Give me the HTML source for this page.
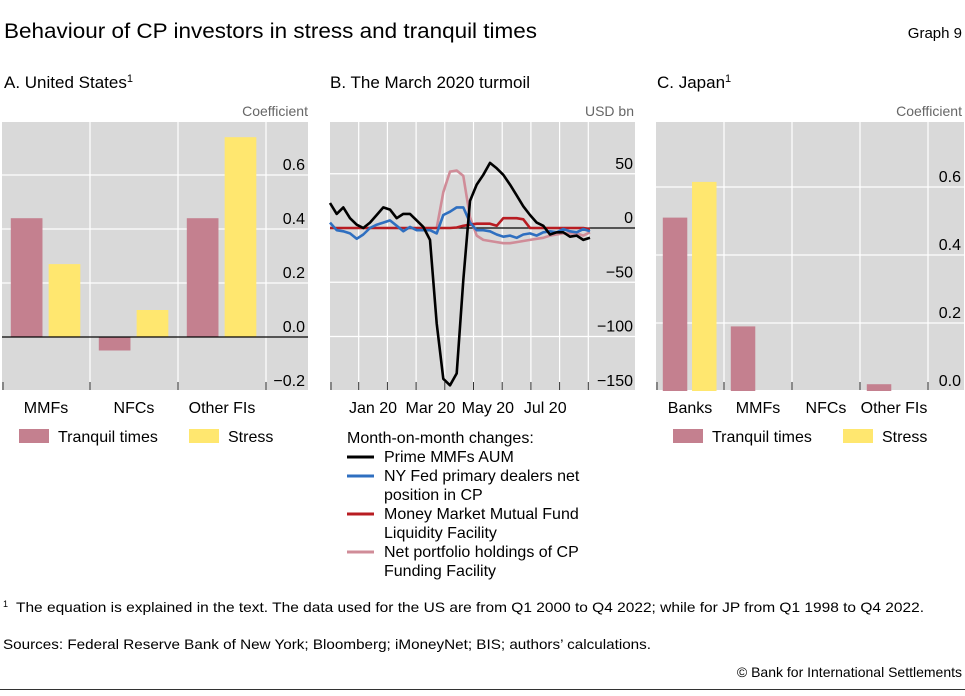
<!DOCTYPE html>
<html><head><meta charset="utf-8">
<style>
body{margin:0;background:#fff;width:965px;height:691px;overflow:hidden;font-family:"Liberation Sans",sans-serif;}
svg text{font-family:"Liberation Sans",sans-serif;}
</style></head>
<body>
<svg id="chart" width="965" height="691" viewBox="0 0 965 691" xmlns="http://www.w3.org/2000/svg">
<text x="4" y="38" font-size="21" textLength="533" lengthAdjust="spacingAndGlyphs" fill="#000">Behaviour of CP investors in stress and tranquil times</text>
<text x="962" y="38" font-size="15" text-anchor="end">Graph 9</text>
<text x="4" y="88" font-size="17">A. United States<tspan font-size="11" dy="-6">1</tspan></text>
<text x="330" y="88" font-size="17">B. The March 2020 turmoil</text>
<text x="657" y="88" font-size="17">C. Japan<tspan font-size="11" dy="-6">1</tspan></text>
<text x="308" y="116" font-size="14" fill="#666" text-anchor="end">Coefficient</text>
<text x="634" y="116" font-size="14" fill="#666" text-anchor="end">USD bn</text>
<text x="962" y="116" font-size="14" fill="#666" text-anchor="end">Coefficient</text>
<g id="pa"></g><g id="pb"></g><g id="pc"></g>
<text x="3" y="607" font-size="9">1</text>
<text x="16" y="612" font-size="14" textLength="908" lengthAdjust="spacingAndGlyphs">The equation is explained in the text. The data used for the US are from Q1 2000 to Q4 2022; while for JP from Q1 1998 to Q4 2022.</text>
<text x="3" y="649" font-size="14" textLength="648" lengthAdjust="spacingAndGlyphs">Sources: Federal Reserve Bank of New York; Bloomberg; iMoneyNet; BIS; authors’ calculations.</text>
<text x="962" y="677" font-size="14" text-anchor="end">© Bank for International Settlements</text>
<line x1="0" y1="689.5" x2="965" y2="689.5" stroke="#333" stroke-width="1"/>
</svg>
<script>
const usCats=["MMFs","NFCs","Other FIs"];
const usTranquil=[0.44,-0.05,0.44];
const usStress=[0.27,0.10,0.74];
const usTicks=[-0.2,0.0,0.2,0.4,0.6];
const jpCats=["Banks","MMFs","NFCs","Other FIs"];
const jpTranquil=[0.51,0.19,0,0.02];
const jpStress=[0.615,0,0,0];
const jpTicks=[0.0,0.2,0.4,0.6];
const bTicks=[-150,-100,-50,0,50];
const bMonths=["Jan 20","Mar 20","May 20","Jul 20"];
const primeMMF=[23,13,19,9,3,0,5,12,19,17,9,13,13,7,1,-11,-88,-139,-145,-134,-48,25,40,49,60,55,49,40,30,20,12,5,2,-6,-4,-4,-8,-7,-11,-9];
const nyFed=[5,-2,-3,-5,-10,-6,0,3,5,7,2,-3,1,-2,-2,-2,-5,12,15,19,19,5,-2,-2,-3,-6,-8,-7,-9,-6,-5,-7,-4,-3,-4,-1,-3,-4,-1,-3];
const mmlf=[0,0,0,0,0,0,0,0,0,0,0,0,0,0,0,0,0,0,0,0.5,2,3,4,4,4,2,9,9,9,8,0,0,0,0,0,0,0,0,0,-1];
const cpff=[null,null,null,null,null,null,null,null,null,null,null,null,null,null,null,null,0,33,52,53,48,10,-7,-11,-12,-13,-14,-14,-13,-12,-11,-10,-9,-7,-6,-5,-5,-5,-7,-4];
const NS="http://www.w3.org/2000/svg";
function mk(p,tag,at){const e=document.createElementNS(NS,tag);for(const k in at)e.setAttribute(k,at[k]);p.appendChild(e);return e;}
const PINK="#c4808f",YEL="#ffe76f",GREY="#d9d9d9";

function barPanel(g,x0,x1,top,bot,y,cats,catW,tr,st,ticks,zeroLine,legX){
  const r=mk(g,'rect',{x:x0,y:top,width:x1-x0,height:bot-top,fill:GREY});
  
  ticks.forEach(t=>{
    const gl=mk(g,'line',{x1:x0,x2:x1,y1:y(t),y2:y(t),stroke:'#fff','stroke-width':1.2});
    
    const tl=mk(g,'text',{x:x1-3,y:y(t)-5,'font-size':16,'text-anchor':'end'});
    tl.textContent=(t<0?'\u2212':'')+Math.abs(t).toFixed(1);
    
  });
  for(let i=1;i<=cats.length;i++){
    const vx=x0+i*catW;
    const vl=mk(g,'line',{x1:vx,x2:vx,y1:top,y2:bot,stroke:'#fff','stroke-width':1.2});
    
  }
  for(let i=0;i<=cats.length;i++){
    const tx=x0+i*catW+(i==0?1:0);
    const tk=mk(g,'line',{x1:tx,x2:tx,y1:bot-8,y2:bot,stroke:'#333','stroke-width':1});
    
  }
  const bw=catW*0.36;
  cats.forEach((c,i)=>{
    const cx=x0+i*catW;
    [[tr[i],PINK,cx+catW*0.1],[st[i],YEL,cx+catW*0.53]].forEach(([v,col,bx],k)=>{
      if(!v)return;
      const ya=y(v),yb=y(0);
      const b=mk(g,'rect',{x:bx,y:Math.min(ya,yb),width:bw,height:Math.abs(yb-ya),fill:col});
      
      
    });
    const cl=mk(g,'text',{x:cx+catW/2,y:bot+23,'font-size':16,'text-anchor':'middle'});
    cl.textContent=c;
    
  });
  if(zeroLine){
    const z=mk(g,'line',{x1:x0,x2:x1,y1:y(0),y2:y(0),stroke:'#000','stroke-width':1.2});
    
  }
  const ly=bot+51;
  const s1=mk(g,'rect',{x:legX,y:ly-12,width:30,height:14,fill:PINK});
  
  const t1=mk(g,'text',{x:legX+39,y:ly+1,'font-size':16});t1.textContent='Tranquil times';
  
  const s2=mk(g,'rect',{x:legX+170,y:ly-12,width:30,height:14,fill:YEL});
  
  const t2=mk(g,'text',{x:legX+209,y:ly+1,'font-size':16});t2.textContent='Stress';
  
}
const yA=v=>337-v*270;
barPanel(document.getElementById('pa'),2,308,122,390,yA,usCats,88,usTranquil,usStress,usTicks,true,19);
const yC=v=>391-v*340;
barPanel(document.getElementById('pc'),656,964,122,390,yC,jpCats,68,jpTranquil,jpStress,jpTicks,false,673);

(function(){
  const g=document.getElementById('pb');
  const x0=330,x1=635,top=122,bot=390;
  const y=v=>228-v*1.085;
  const xi=i=>330+i*6.667;
  const monthW=28.7;
  const r=mk(g,'rect',{x:x0,y:top,width:x1-x0,height:bot-top,fill:GREY});
  
  bTicks.forEach(t=>{
    const gl=mk(g,'line',{x1:x0,x2:x1,y1:y(t),y2:y(t),stroke:'#fff','stroke-width':1.2});
    
    const tl=mk(g,'text',{x:x1-2,y:y(t)-5,'font-size':16,'text-anchor':'end'});
    tl.textContent=(t<0?'\u2212':'')+Math.abs(t);
    
  });
  for(let m=0;m<=9;m++){
    const vx=x0+m*monthW;
    if(m>0){const vl=mk(g,'line',{x1:vx,x2:vx,y1:top,y2:bot,stroke:'#fff','stroke-width':1.2});
    }
    const tk=mk(g,'line',{x1:vx+(m==0?1:0),x2:vx+(m==0?1:0),y1:bot-8,y2:bot,stroke:'#333','stroke-width':1});
    
  }
  bMonths.forEach((lab,k)=>{
    const t=mk(g,'text',{x:x0+(1+2*k)*monthW+monthW/2,y:bot+23,'font-size':16,'text-anchor':'middle'});
    t.textContent=lab;
    
  });
  const z=mk(g,'line',{x1:x0,x2:x1,y1:y(0),y2:y(0),stroke:'#000','stroke-width':1.2});
  
  function line(arr,col,name){
    let d='';let pen=false;
    arr.forEach((v,i)=>{if(v===null){pen=false;return;}d+=(pen?'L':'M')+xi(i).toFixed(1)+','+y(v).toFixed(1);pen=true;});
    const p=mk(g,'path',{d:d,fill:'none',stroke:col,'stroke-width':2.6,'stroke-linejoin':'round'});
    
  }
  line(cpff,'#d08c98','line-cpff-holdings');
  line(mmlf,'#b81c22','line-mmlf');
  line(nyFed,'#2f6fc0','line-nyfed-dealers');
  line(primeMMF,'#000','line-prime-mmfs-aum');
  const lt=mk(g,'text',{x:347,y:443,'font-size':16});lt.textContent='Month-on-month changes:';
  
  const items=[['#000',['Prime MMFs AUM'],'prime-mmfs'],['#2f6fc0',['NY Fed primary dealers net','position in CP'],'nyfed'],['#b81c22',['Money Market Mutual Fund','Liquidity Facility'],'mmlf'],['#d08c98',['Net portfolio holdings of CP','Funding Facility'],'cpff']];
  let yy=462;
  items.forEach(([c,ls,n])=>{
    const sw=mk(g,'line',{x1:347,x2:374,y1:yy-5,y2:yy-5,stroke:c,'stroke-width':3});
    
    ls.forEach((s,k)=>{
      const t=mk(g,'text',{x:384,y:yy+k*19,'font-size':16});t.textContent=s;
      
    });
    yy+=19*ls.length;
  });
})();
</script>
</body></html>
